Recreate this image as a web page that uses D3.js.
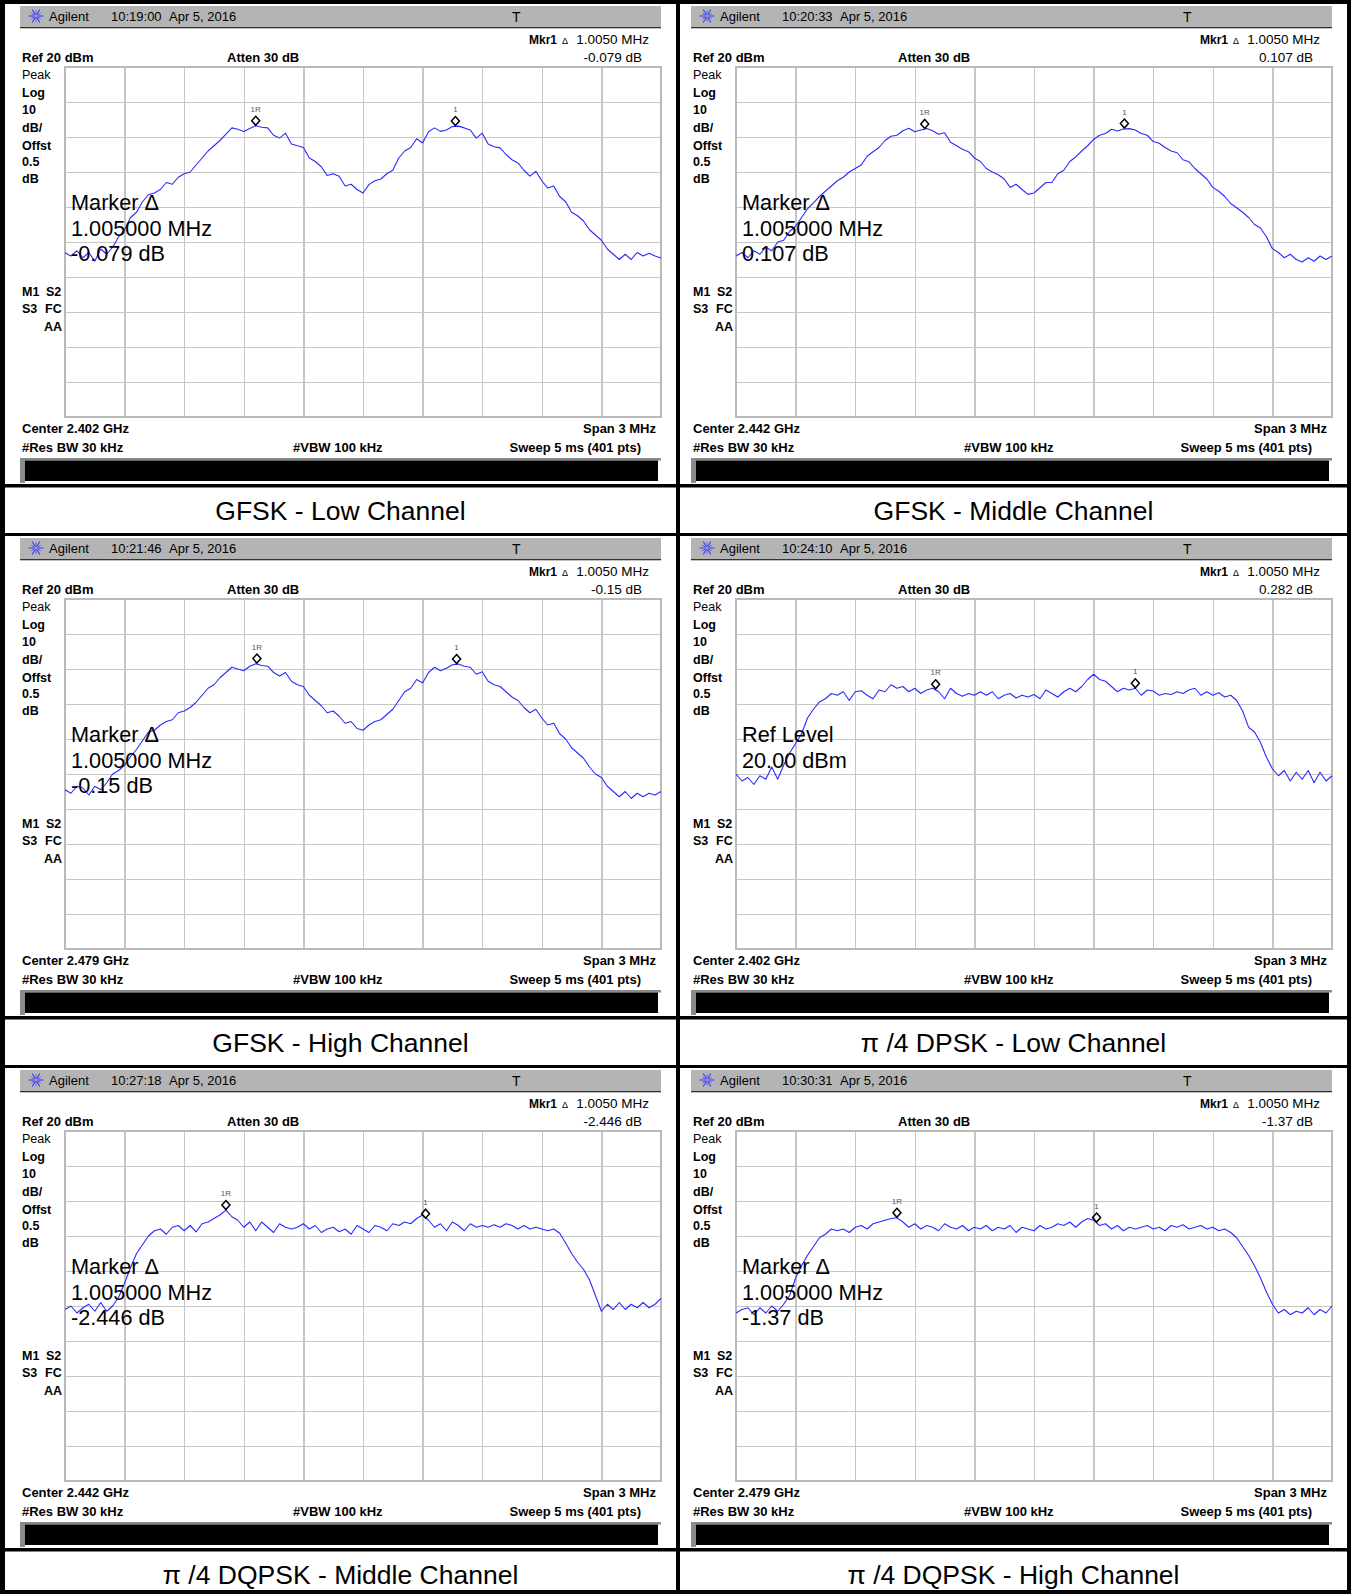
<!DOCTYPE html>
<html>
<head>
<meta charset="utf-8">
<script src="https://cdn.jsdelivr.net/npm/d3@7"></script>
<style>
  body { margin: 0; background: #fff; }
  svg { display: block; }
  text { font-family: "Liberation Sans", Arial, sans-serif; }
</style>
</head>
<body>
<svg id="chart" width="1355" height="1594"></svg>
<script>
// ---- Spectrum analyser captures: 20 dB bandwidth / carrier separation, 6 modes ----

// frequency offset from centre (MHz) of each sample, 3 MHz span
const freqOffsetsMHz = d3.range(101).map(i => -1.5 + i * 0.03);

// trace levels (dBm), one array per capture
const traceGfskLow = [
  -33.1, -34.0, -32.5, -34.5, -33.0, -35.5, -32.0, -33.5, -31.5, -28.5,
  -26.5, -23.0, -21.5, -18.5, -16.5, -16.0, -15.0, -13.0, -13.5, -11.5,
  -10.5, -10.0, -8.0, -6.0, -4.0, -2.5, -1.0, 0.8, 2.6, 2.2,
  1.6, 2.4, 3.2, 2.8, 2.6, 0.5, -0.3, 1.1, -2.0, -2.5,
  -3.0, -6.0, -7.0, -8.5, -11.0, -10.5, -11.2, -14.0, -13.5, -15.0,
  -16.0, -13.6, -12.5, -12.0, -10.5, -9.5, -6.0, -4.0, -3.0, -0.5,
  -1.7, 1.5, 2.6, 1.6, 2.0, 3.0, 3.1, 2.6, 2.0, -0.3,
  1.1, -2.0, -2.8, -3.1, -5.0, -6.5, -7.4, -9.5, -11.2, -9.8,
  -12.5, -14.6, -14.0, -17.0, -18.5, -21.5, -22.5, -24.0, -26.5, -28.0,
  -29.5, -32.0, -33.5, -35.0, -33.5, -35.0, -33.0, -34.0, -33.2, -34.0,
  -34.6
];
const traceGfskMid = [
  -34.0, -33.0, -34.5, -32.5, -33.5, -31.5, -32.5, -30.0, -29.5, -27.0,
  -25.5, -23.0, -20.5, -18.8, -17.0, -15.5, -14.0, -12.5, -11.5, -10.0,
  -9.0, -8.0, -5.5, -4.2, -3.0, -1.0, 0.2, 0.5, 1.8, 2.5,
  1.5, 2.0, 2.4, 1.8, 0.8, 1.2, -1.5, -2.5, -3.5, -4.2,
  -6.0, -7.0, -9.0, -10.0, -10.8, -12.0, -14.4, -13.5, -15.0, -16.4,
  -16.0, -14.5, -13.0, -13.0, -10.5, -9.5, -7.0, -5.7, -4.0, -2.5,
  -0.7, 0.5, 1.0, 2.2, 1.7, 2.3, 2.4, 2.0, 1.0, 0.5,
  -1.3, -1.8, -3.0, -4.0, -4.5, -6.5, -7.1, -9.0, -10.5, -12.0,
  -14.4, -15.5, -17.0, -19.0, -20.2, -21.5, -23.0, -25.0, -26.0, -28.5,
  -31.9, -33.0, -34.5, -33.5, -35.0, -35.7, -34.5, -35.5, -34.0, -35.0,
  -34.0
];
const traceGfskHigh = [
  -34.5, -35.5, -33.5, -34.0, -36.0, -33.5, -34.5, -32.5, -30.0, -29.0,
  -27.5, -25.0, -23.0, -20.5, -18.0, -17.5, -16.0, -15.0, -14.5, -12.5,
  -12.0, -11.0, -9.5, -7.5, -5.5, -4.5, -2.5, -1.0, 0.5, 0.0,
  -0.5, 0.8, 1.5, 1.0, 0.8, -1.0, -2.0, -1.0, -3.5, -4.5,
  -5.0, -7.5, -9.0, -10.5, -12.5, -12.0, -13.5, -15.5, -15.0, -17.0,
  -17.5, -16.0, -15.0, -14.5, -13.0, -11.5, -9.0, -6.5, -5.5, -3.0,
  -4.0, -1.0, 0.5, -0.5, 0.2, 1.2, 1.4, 0.8, 0.5, -1.5,
  -0.8, -3.5, -4.5, -5.0, -6.5, -8.0, -9.0, -11.0, -12.5, -11.5,
  -14.0, -16.0, -15.5, -18.5, -20.0, -22.5, -24.0, -25.5, -28.0, -30.0,
  -31.0, -33.5, -35.0, -36.5, -35.0, -37.0, -35.5, -36.5, -35.5, -36.0,
  -35.0
];
const traceDpskLow = [
  -30.0, -32.0, -31.0, -33.0, -30.5, -31.5, -28.0, -31.5, -27.5, -24.0,
  -21.3, -18.5, -14.0, -11.5, -9.4, -8.5, -7.0, -7.5, -6.5, -9.0,
  -6.5, -6.2, -7.5, -8.5, -6.0, -6.5, -4.5, -5.5, -5.0, -6.5,
  -5.5, -7.0, -6.0, -5.5, -6.5, -8.5, -5.5, -7.0, -7.8, -7.0,
  -7.5, -6.5, -7.5, -6.5, -8.5, -7.5, -7.0, -8.3, -7.5, -8.0,
  -7.3, -8.5, -6.0, -7.0, -8.0, -6.5, -5.5, -6.5, -5.0, -3.0,
  -1.5, -3.0, -3.5, -5.0, -6.5, -5.5, -6.0, -5.5, -7.5, -6.0,
  -6.3, -7.5, -7.0, -7.3, -6.5, -7.0, -6.0, -5.5, -7.5, -6.5,
  -7.5, -6.8, -8.0, -7.5, -9.0, -12.0, -16.6, -18.0, -21.0, -25.2,
  -28.5, -30.5, -29.0, -32.0, -29.5, -31.5, -29.0, -32.5, -29.5, -32.0,
  -30.5
];
const traceDqpskMid = [
  -31.0, -30.0, -32.0, -30.5, -29.5, -31.5, -29.0, -31.5, -30.0, -27.5,
  -23.5, -19.0, -15.0, -12.5, -10.0, -8.5, -8.0, -9.5, -7.5, -7.0,
  -8.5, -7.0, -8.8, -6.5, -6.0, -5.0, -4.0, -2.6, -4.5, -5.5,
  -7.5, -6.0, -8.5, -6.0, -7.5, -9.0, -6.5, -7.5, -8.0, -7.5,
  -6.5, -8.0, -7.0, -9.0, -8.0, -7.5, -8.8, -8.0, -9.5, -7.0,
  -8.0, -9.0, -7.0, -7.5, -8.5, -6.5, -7.0, -6.0, -6.5, -5.0,
  -4.0, -5.5, -7.5, -6.5, -8.5, -6.0, -7.0, -8.5, -6.5, -7.5,
  -7.0, -7.5, -6.8, -7.5, -6.5, -7.0, -8.0, -7.0, -8.0, -7.5,
  -8.0, -8.5, -8.0, -9.2, -12.0, -15.0, -17.5, -19.5, -22.5, -27.0,
  -31.5, -29.5, -31.0, -29.0, -31.0, -29.5, -30.5, -29.0, -30.5, -29.5,
  -27.8
];
const traceDqpskHigh = [
  -32.0, -31.0, -30.5, -32.5, -30.5, -32.0, -30.0, -31.5, -29.5, -27.0,
  -22.0, -18.5, -15.5, -13.0, -10.5, -9.5, -8.0, -8.5, -8.0, -9.0,
  -7.5, -7.0, -8.0, -6.5, -6.0, -5.5, -5.0, -4.8, -6.0, -7.5,
  -6.5, -8.0, -7.0, -7.5, -8.5, -6.5, -7.5, -8.0, -7.0, -8.5,
  -7.5, -8.0, -7.0, -8.5, -7.5, -8.0, -7.0, -9.0, -7.5, -8.0,
  -8.5, -7.0, -8.0, -7.5, -6.5, -7.0, -6.0, -7.5, -6.0, -5.0,
  -5.5, -7.0, -6.5, -8.0, -7.0, -8.5, -7.5, -8.0, -7.5, -7.0,
  -8.0, -7.5, -8.5, -7.0, -7.5, -6.8, -8.0, -7.5, -7.0, -8.0,
  -7.5, -8.5, -8.0, -9.0, -10.5, -13.0, -15.5, -18.5, -22.0, -26.0,
  -29.5, -32.0, -31.0, -32.5, -31.5, -32.0, -30.5, -32.5, -31.0, -32.0,
  -30.0
];
const traces = [traceGfskLow, traceGfskMid, traceGfskHigh, traceDpskLow, traceDqpskMid, traceDqpskHigh];

// per-capture settings and annotations
const captions = [
  "GFSK - Low Channel", "GFSK - Middle Channel", "GFSK - High Channel",
  "\u03C0 /4 DPSK - Low Channel", "\u03C0 /4 DQPSK - Middle Channel", "\u03C0 /4 DQPSK - High Channel"
];
const timestamps = ["10:19:00", "10:20:33", "10:21:46", "10:24:10", "10:27:18", "10:30:31"];
const captureDate = "Apr 5, 2016";
const centerFreqs = ["2.402 GHz", "2.442 GHz", "2.479 GHz", "2.402 GHz", "2.442 GHz", "2.479 GHz"];
const markerRefFreqMHz = [-0.54, -0.55, -0.534, -0.495, -0.69, -0.69];
const markerRefLevel = [3.2, 2.3, 1.55, -5.8, -2.6, -4.8];
const markerDeltaDb = [-0.079, 0.107, -0.15, 0.282, -2.446, -1.37];
const markerDeltaMHz = 1.005;
const activeFunction = ["marker", "marker", "marker", "reflevel", "marker", "marker"];

// analyser settings shared by all captures
const refLevelDbm = 20;
const dbPerDiv = 10;
const spanMHz = 3;
const leftLabels = [
  { t: "Peak", b: false, y: 79 }, { t: "Log", b: true, y: 97 }, { t: "10", b: true, y: 114 },
  { t: "dB/", b: true, y: 132 }, { t: "Offst", b: true, y: 150 }, { t: "0.5", b: true, y: 166 },
  { t: "dB", b: true, y: 183 }
];

// ---- layout ----
const svg = d3.select("#chart");
const COL_DX = 671, ROW_DY = 532;
const P = { x0: 65, x1: 661, y0: 67, y1: 417 };
const TRACE_BLUE = "#2a2aff";

const x = d3.scaleLinear().domain([-spanMHz / 2, spanMHz / 2]).range([P.x0, P.x1]);
const y = d3.scaleLinear().domain([refLevelDbm, refLevelDbm - 10 * dbPerDiv]).range([P.y0, P.y1]);

function agilentLogo(g, cx, cy) {
  const ray = g.append("g").attr("stroke", "#3a3aff").attr("stroke-linecap", "round");
  d3.range(12).forEach(k => {
    const a = k * Math.PI / 6;
    const r0 = k % 2 ? 2.5 : 1.5, r1 = k % 2 ? 5 : 7;
    ray.append("line")
      .attr("x1", cx + r0 * Math.cos(a)).attr("y1", cy + r0 * Math.sin(a))
      .attr("x2", cx + r1 * Math.cos(a)).attr("y2", cy + r1 * Math.sin(a))
      .attr("stroke-width", k % 2 ? 0.8 : 1.1);
  });
}

traces.forEach((levels, i) => {
  const r = Math.floor(i / 2), c = i % 2;
  const g = svg.append("g").attr("transform", `translate(${c * COL_DX},${r * ROW_DY})`);

  // title bar
  g.append("rect").attr("x", 20).attr("y", 6).attr("width", 641).attr("height", 21).attr("fill", "#b4b4b4");
  g.append("rect").attr("x", 20).attr("y", 27).attr("width", 641).attr("height", 1.3).attr("fill", "#333");
  agilentLogo(g, 36, 16);
  g.append("text").attr("x", 49).attr("y", 21).attr("font-size", 13).text("Agilent");
  g.append("text").attr("x", 111).attr("y", 21).attr("font-size", 13).text(timestamps[i]);
  g.append("text").attr("x", 169).attr("y", 21).attr("font-size", 13).text(captureDate);
  g.append("text").attr("x", 512).attr("y", 22).attr("font-size", 14).text("T");

  // readouts above the graticule
  g.append("text").attr("x", 529).attr("y", 44).attr("font-size", 12).attr("font-weight", "bold").text("Mkr1");
  g.append("text").attr("x", 562).attr("y", 44).attr("font-size", 9).text("\u0394");
  g.append("text").attr("x", 649).attr("y", 44).attr("font-size", 13.5).attr("text-anchor", "end")
    .text(`${markerDeltaMHz.toFixed(4)} MHz`);
  g.append("text").attr("x", 22).attr("y", 62).attr("font-size", 13).attr("font-weight", "bold").text(`Ref ${refLevelDbm} dBm`);
  g.append("text").attr("x", 227).attr("y", 62).attr("font-size", 13).attr("font-weight", "bold").text("Atten 30 dB");
  g.append("text").attr("x", 642).attr("y", 62).attr("font-size", 13.5).attr("text-anchor", "end")
    .text(`${markerDeltaDb[i]} dB`);

  // left annotation column
  leftLabels.forEach(l => {
    g.append("text").attr("x", 22).attr("y", l.y).attr("font-size", 12.5)
      .attr("font-weight", l.b ? "bold" : "normal").text(l.t);
  });
  [["M1", 22, 296], ["S2", 46, 296], ["S3", 22, 313], ["FC", 45, 313]].forEach(([t, tx, ty]) =>
    g.append("text").attr("x", tx).attr("y", ty).attr("font-size", 12.5).attr("font-weight", "bold").text(t));
  g.append("text").attr("x", 62).attr("y", 331).attr("font-size", 12.5).attr("font-weight", "bold")
    .attr("text-anchor", "end").text("AA");

  // graticule
  const grid = g.append("g").attr("shape-rendering", "crispEdges");
  grid.append("g").attr("transform", `translate(0,${P.y1})`)
    .call(d3.axisBottom(x).tickValues(d3.range(11).map(k => -spanMHz / 2 + k * spanMHz / 10))
      .tickSize(-(P.y1 - P.y0)).tickFormat(""))
    .call(a => a.select(".domain").remove());
  grid.append("g").attr("transform", `translate(${P.x0},0)`)
    .call(d3.axisLeft(y).tickValues(d3.range(11).map(k => refLevelDbm - k * dbPerDiv))
      .tickSize(-(P.x1 - P.x0)).tickFormat(""))
    .call(a => a.select(".domain").remove());
  grid.selectAll(".tick line").attr("stroke", "#c6c6c6").attr("stroke-width", 1.5);
  g.append("rect").attr("x", P.x0).attr("y", P.y0).attr("width", P.x1 - P.x0).attr("height", P.y1 - P.y0)
    .attr("fill", "none").attr("stroke", "#b9b9b9").attr("stroke-width", 2);

  // trace
  const line = d3.line().x((d, k) => x(freqOffsetsMHz[k])).y(d => y(d));
  g.append("path").datum(levels).attr("d", line)
    .attr("fill", "none").attr("stroke", TRACE_BLUE).attr("stroke-width", 1.1).attr("stroke-linejoin", "round");

  // delta marker pair
  const markers = [
    { f: markerRefFreqMHz[i], lv: markerRefLevel[i], label: "1R" },
    { f: markerRefFreqMHz[i] + markerDeltaMHz, lv: markerRefLevel[i] + markerDeltaDb[i], label: "1" }
  ];
  markers.forEach(m => {
    const mx = x(m.f), my = y(m.lv) - 5;
    g.append("path").attr("d", `M${mx},${my - 4.5}L${mx + 4},${my}L${mx},${my + 4.5}L${mx - 4},${my}Z`)
      .attr("fill", "none").attr("stroke", "#000").attr("stroke-width", 1.5);
    g.append("text").attr("x", mx).attr("y", my - 9).attr("text-anchor", "middle")
      .attr("font-family", "DejaVu Sans Mono").attr("font-size", 8).attr("fill", "#555").text(m.label);
  });

  // active function readout
  const overlay = activeFunction[i] === "marker"
    ? ["Marker \u0394", `${markerDeltaMHz.toFixed(6)} MHz`, `${markerDeltaDb[i]} dB`]
    : ["Ref Level", `${refLevelDbm.toFixed(2)} dBm`];
  overlay.forEach((t, k) => {
    g.append("text").attr("x", 71).attr("y", 210 + k * 25.5).attr("font-size", 21.7).attr("fill", "#000").text(t);
  });

  // footer settings
  g.append("text").attr("x", 22).attr("y", 433).attr("font-size", 13).attr("font-weight", "bold").text(`Center ${centerFreqs[i]}`);
  g.append("text").attr("x", 656).attr("y", 433).attr("font-size", 13).attr("font-weight", "bold")
    .attr("text-anchor", "end").text(`Span ${spanMHz} MHz`);
  g.append("text").attr("x", 22).attr("y", 452).attr("font-size", 13).attr("font-weight", "bold").text("#Res BW 30 kHz");
  g.append("text").attr("x", 293).attr("y", 452).attr("font-size", 13).attr("font-weight", "bold").text("#VBW 100 kHz");
  g.append("text").attr("x", 641).attr("y", 452).attr("font-size", 13).attr("font-weight", "bold")
    .attr("text-anchor", "end").text("Sweep 5 ms (401 pts)");

  // status bar
  g.append("rect").attr("x", 20).attr("y", 458).attr("width", 641).attr("height", 25).attr("fill", "#8a8a8a");
  g.append("rect").attr("x", 25).attr("y", 460.5).attr("width", 636).attr("height", 22.5).attr("fill", "#fff");
  g.append("rect").attr("x", 25).attr("y", 460.5).attr("width", 633).attr("height", 20.5).attr("fill", "#000");

  // caption
  const cx = c === 0 ? 340.5 : 1013.5 - COL_DX;
  g.append("text").attr("x", cx).attr("y", 520).attr("font-size", 26.5).attr("text-anchor", "middle").text(captions[i]);
});

// table rules
const rules = svg.append("g").attr("fill", "#000");
rules.append("rect").attr("x", 0).attr("y", 0).attr("width", 1351).attr("height", 4);
rules.append("rect").attr("x", 0).attr("y", 0).attr("width", 5).attr("height", 1594);
rules.append("rect").attr("x", 1347).attr("y", 0).attr("width", 4).attr("height", 1594);
rules.append("rect").attr("x", 676).attr("y", 0).attr("width", 4).attr("height", 1594);
[0, 1, 2].forEach(r => {
  rules.append("rect").attr("x", 0).attr("y", 484 + r * ROW_DY).attr("width", 1351).attr("height", 3.5);
  if (r < 2) rules.append("rect").attr("x", 0).attr("y", 533 + r * ROW_DY).attr("width", 1351).attr("height", 3);
});
rules.append("rect").attr("x", 0).attr("y", 1590).attr("width", 1351).attr("height", 4);
</script>
</body>
</html>
